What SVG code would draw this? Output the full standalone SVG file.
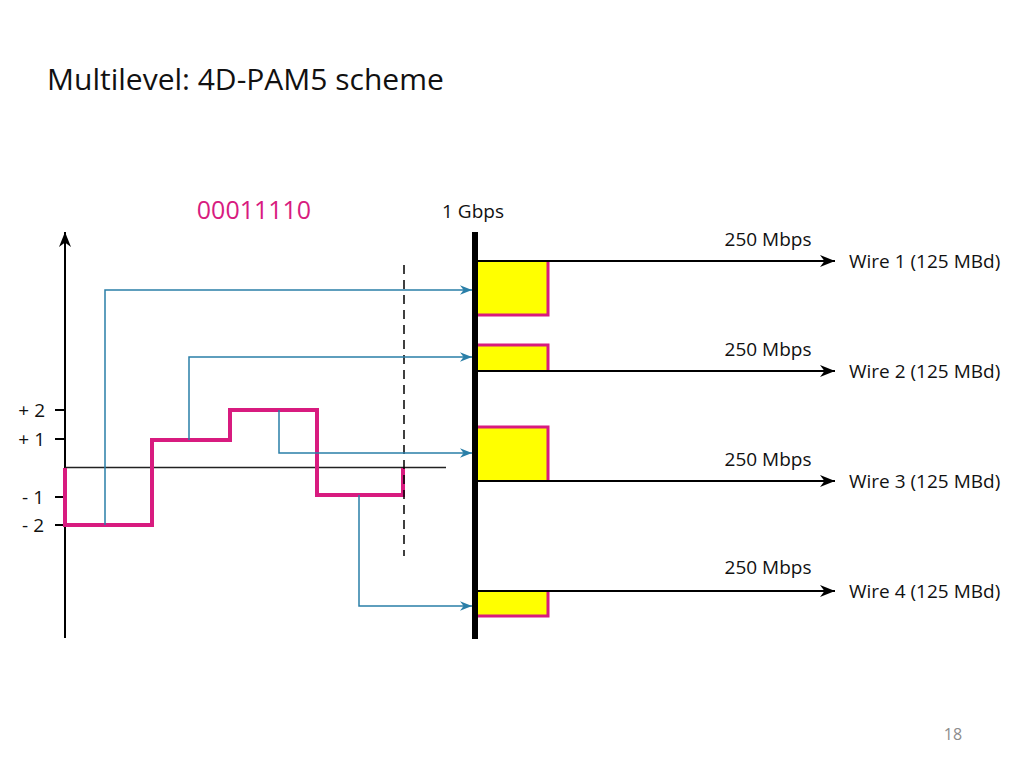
<svg xmlns="http://www.w3.org/2000/svg" width="1024" height="768" viewBox="0 0 1024 768">
<defs>
<style>
.t{font-family:"Open Sans","Liberation Sans",sans-serif;fill:#111}
.sig{fill:none;stroke:#d81b7f;stroke-width:4;stroke-linejoin:miter}
.blue{fill:none;stroke:#2a7fa8;stroke-width:1.5}
.blk{fill:none;stroke:#000;stroke-width:2}
.box{fill:#ffff00;stroke:none}
.edge{fill:none;stroke:#d81b7f;stroke-width:3}
.lbl{font-size:19px}
</style>
<marker id="ab" viewBox="0 0 10 10" refX="10" refY="5" markerWidth="14" markerHeight="12" markerUnits="userSpaceOnUse" orient="auto"><path d="M0,1 L10,5 L0,9 L3,5 Z" fill="#2a7fa8"/></marker>
<marker id="ak" viewBox="0 0 10 10" refX="10" refY="5" markerWidth="20" markerHeight="15" markerUnits="userSpaceOnUse" orient="auto"><path d="M0,1 L10,5 L0,9 L3,5 Z" fill="#000"/></marker>
</defs>
<rect width="1024" height="768" fill="#fff"/>
<text class="t" x="47" y="90" font-size="30">Multilevel: 4D-PAM5 scheme</text>
<text x="953" y="740" font-family="'Open Sans','Liberation Sans',sans-serif" font-size="16" fill="#8c8c8c" text-anchor="middle">18</text>

<g id="axis">
<line class="blk" x1="65" y1="638" x2="65" y2="232" marker-end="url(#ak)"/>
<line x1="65" y1="467.5" x2="446" y2="467.5" stroke="#222" stroke-width="1.3"/>
<line class="blk" x1="55" y1="410" x2="65" y2="410" stroke-width="1.5"/>
<line class="blk" x1="55" y1="439" x2="65" y2="439" stroke-width="1.5"/>
<line class="blk" x1="55" y1="497" x2="65" y2="497" stroke-width="1.5"/>
<line class="blk" x1="55" y1="525" x2="65" y2="525" stroke-width="1.5"/>
<text class="t" x="45" y="417" font-size="19" text-anchor="end">+ 2</text>
<text class="t" x="45" y="446" font-size="19" text-anchor="end">+ 1</text>
<text class="t" x="44" y="504" font-size="19" text-anchor="end">- 1</text>
<text class="t" x="44" y="532" font-size="19" text-anchor="end">- 2</text>
</g>

<g id="code">
<text x="254" y="219" font-family="'Open Sans','Liberation Sans',sans-serif" font-size="25" fill="#d81b7f" text-anchor="middle">00011110</text>
</g>

<g id="signal">
<path class="sig" d="M65,468 V525 H152 V440 H230 V410 H317 V495 H403 V468"/>
</g>

<g id="dash">
<line x1="404" y1="265" x2="404" y2="556" stroke="#000" stroke-width="1.5" stroke-dasharray="9,6"/>
</g>

<g id="bus">
<text class="t lbl" x="473" y="218" text-anchor="middle">1 Gbps</text>
<rect x="472" y="232" width="6" height="407" fill="#000"/>
</g>

<g id="wire1">
<rect class="box" x="478" y="261" width="70" height="55"/>
<path class="edge" d="M548,261 V315 H478"/>
<text class="t lbl" x="768" y="246" text-anchor="middle">250 Mbps</text>
<text class="t lbl" x="849" y="268">Wire 1 (125 MBd)</text>
</g>
<g id="wire2">
<rect class="box" x="478" y="344" width="70" height="27"/>
<path class="edge" d="M478,345 H548 V371"/>
<text class="t lbl" x="768" y="356" text-anchor="middle">250 Mbps</text>
<text class="t lbl" x="849" y="378">Wire 2 (125 MBd)</text>
</g>
<g id="wire3">
<rect class="box" x="478" y="426" width="70" height="55"/>
<path class="edge" d="M478,427 H548 V481"/>
<text class="t lbl" x="768" y="466" text-anchor="middle">250 Mbps</text>
<text class="t lbl" x="849" y="488">Wire 3 (125 MBd)</text>
</g>
<g id="wire4">
<rect class="box" x="478" y="591" width="70" height="26"/>
<path class="edge" d="M548,591 V616 H478"/>
<text class="t lbl" x="768" y="574" text-anchor="middle">250 Mbps</text>
<text class="t lbl" x="849" y="598">Wire 4 (125 MBd)</text>
</g>

<g id="connectors">
<path class="blue" d="M105,525 V290 H472" marker-end="url(#ab)"/>
<path class="blue" d="M189,440 V357 H472" marker-end="url(#ab)"/>
<path class="blue" d="M279,410 V453 H472" marker-end="url(#ab)"/>
<path class="blue" d="M359,495 V606 H472" marker-end="url(#ab)"/>
<line class="blk" x1="478" y1="261" x2="835" y2="261" marker-end="url(#ak)"/>
<line class="blk" x1="478" y1="371" x2="835" y2="371" marker-end="url(#ak)"/>
<line class="blk" x1="478" y1="481" x2="835" y2="481" marker-end="url(#ak)"/>
<line class="blk" x1="478" y1="591" x2="835" y2="591" marker-end="url(#ak)"/>
</g>
</svg>
